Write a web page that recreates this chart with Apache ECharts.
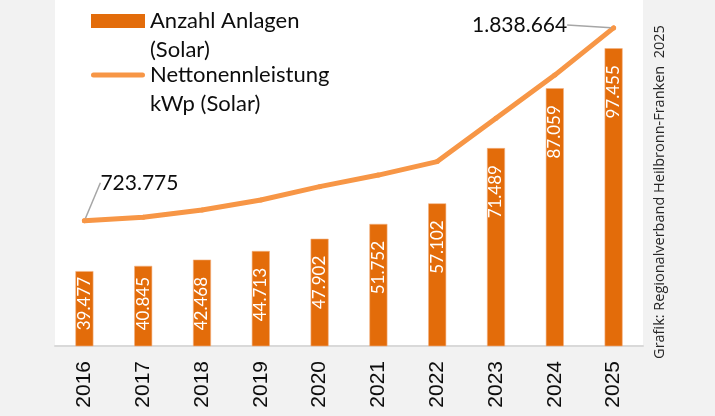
<!DOCTYPE html>
<html lang="de">
<head>
<meta charset="UTF-8">
<title>Photovoltaik Heilbronn-Franken</title>
<style>
  html, body { margin: 0; padding: 0; background: #f2f2f2; }
  #container { width: 715px; height: 416px; }
</style>
</head>
<body>
<div id="container"></div>
<script src="https://cdn.jsdelivr.net/npm/echarts@6/dist/echarts.min.js"></script>
<script>
var years = ['2016', '2017', '2018', '2019', '2020', '2021', '2022', '2023', '2024', '2025'];
// Anzahl Anlagen (Solar)
var anlagen = [39477, 40845, 42468, 44713, 47902, 51752, 57102, 71489, 87059, 97455];
// Nettonennleistung kWp (Solar) - nur erster und letzter Wert beschriftet
var leistung = [723775, 744000, 786000, 844000, 921000, 988000, 1066000, 1316000, 1566000, 1838664];

var nameBar = 'Anzahl Anlagen\n(Solar)';
var nameLine = 'Nettonennleistung\nkWp (Solar)';

// legend icons: drawn in the upper part of a 54x42 box so they sit on the first text line
var iconBar = 'path://M0,0h54v14h-54z M53.99,41.99h0.01v0.01h-0.01z';
var iconLine = 'path://M0,0h0.01v0.01h-0.01z M2.5,4.5h49a2.5,2.5 0 0 1 0,5h-49a2.5,2.5 0 0 1 0,-5z M53.99,41.99h0.01v0.01h-0.01z';

function fmtDe(v) {
    return String(v).replace(/\B(?=(\d{3})+(?!\d))/g, '.');
}

// short bars get their label from the bottom so it stays inside the bar
var barData = anlagen.map(function (v) {
    if (v < 43000) {
        return { value: v, label: { position: 'insideBottom', align: 'left', distance: 16 } };
    }
    return v;
});

var last = leistung.length - 1;
var lineData = leistung.map(function (v, i) {
    var show = (i === 0 || i === last);
    return { value: v, label: { show: show }, labelLine: { show: show } };
});

var chart = echarts.init(document.getElementById('container'));

var option = {
    backgroundColor: '#f2f2f2',
    animation: false,
    grid: {
        left: 55,
        right: 72,
        top: 0,
        bottom: 70,
        show: true,
        backgroundColor: '#ffffff',
        borderWidth: 0
    },
    legend: {
        orient: 'vertical',
        left: 91,
        top: 6,
        padding: 0,
        itemWidth: 54,
        itemHeight: 42,
        itemGap: -4,
        data: [
            { name: nameBar, icon: iconBar, itemStyle: { borderWidth: 0, color: '#e36c0a' } },
            { name: nameLine, icon: iconLine, itemStyle: { borderWidth: 0, color: '#f79646' } }
        ],
        textStyle: {
            fontFamily: 'Lato',
            fontSize: 22,
            color: '#0d0d0d',
            lineHeight: 29
        }
    },
    xAxis: {
        type: 'category',
        data: years,
        axisLine: { lineStyle: { color: '#d9d9d9', width: 2 } },
        axisTick: { show: false },
        axisLabel: {
            rotate: 90,
            margin: 15,
            fontFamily: 'Liberation Sans',
            fontSize: 21,
            color: '#0d0d0d'
        }
    },
    yAxis: [{
        type: 'value',
        min: 20000,
        max: 110000,
        show: false
    }, {
        type: 'value',
        min: 0,
        max: 2000000,
        show: false
    }],
    series: [{
        name: nameBar,
        type: 'bar',
        yAxisIndex: 0,
        data: barData,
        barWidth: 18,
        itemStyle: { color: '#e36c0a', borderColor: '#f4b183', borderWidth: 0.6 },
        label: {
            show: true,
            position: 'insideTop',
            rotate: 90,
            align: 'right',
            verticalAlign: 'middle',
            distance: 17,
            fontFamily: 'Lato',
            fontSize: 17,
            color: '#ffffff',
            formatter: function (p) { return fmtDe(p.value); }
        }
    }, {
        name: nameLine,
        type: 'line',
        yAxisIndex: 1,
        data: lineData,
        symbol: 'circle',
        symbolSize: 5,
        smooth: false,
        lineStyle: { color: '#f79646', width: 5, cap: 'round', join: 'round' },
        itemStyle: { color: '#f79646' },
        label: {
            position: 'top',
            fontFamily: 'Lato',
            fontSize: 21,
            color: '#0d0d0d',
            formatter: function (p) { return fmtDe(p.value); }
        },
        labelLine: {
            lineStyle: { color: '#a6a6a6', width: 1.5 }
        },
        labelLayout: function (params) {
            if (params.dataIndex === 0) return { dx: 55, dy: -20 };
            if (params.dataIndex === last) return { dx: -94, dy: 15 };
            return {};
        }
    }],
    graphic: [{
        type: 'text',
        x: 660,
        y: 192,
        rotation: Math.PI / 2,
        style: {
            text: 'Grafik: Regionalverband Heilbronn-Franken  2025',
            fontFamily: 'Open Sans',
            fontSize: 14.5,
            fill: '#262626',
            align: 'center',
            verticalAlign: 'middle'
        }
    }]
};

chart.setOption(option);
</script>
</body>
</html>
